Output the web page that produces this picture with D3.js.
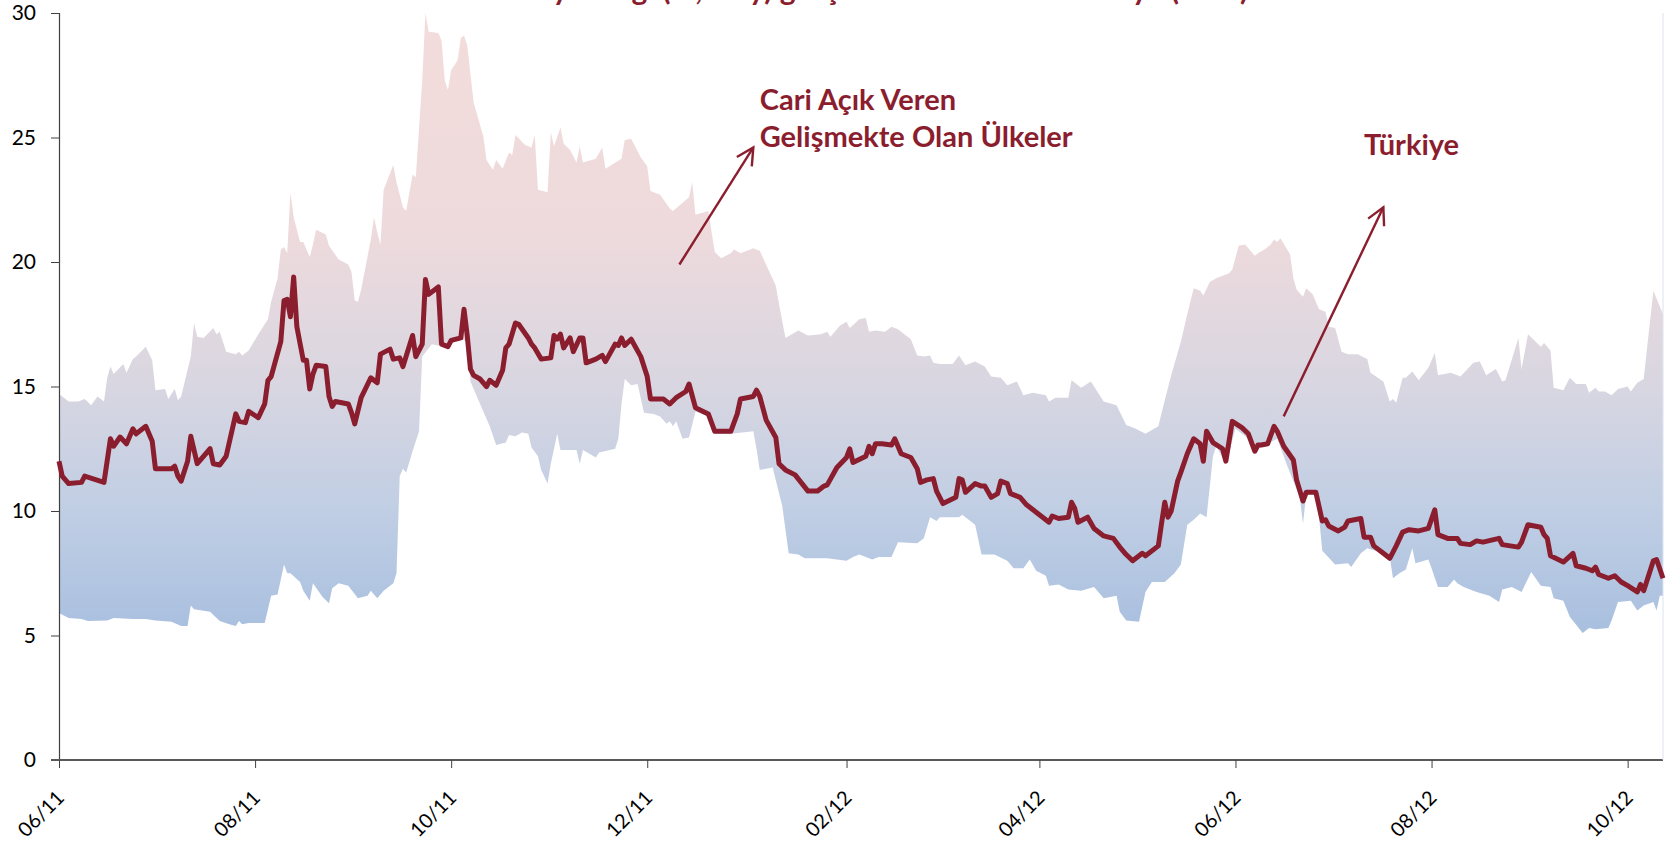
<!DOCTYPE html>
<html>
<head>
<meta charset="utf-8">
<script src="https://cdn.jsdelivr.net/npm/d3@7"></script>
<style>
  body { margin: 0; background: #fff; }
  svg { display: block; font-family: Lato, "Open Sans", sans-serif; }
</style>
</head>
<body>
<svg id="chart" width="1667" height="843"></svg>
<script>
// days are counted from startDate
var startDate = "2011-06-01";
var endDay = 499;
var tickDates = ["2011-06-01", "2011-08-01", "2011-10-01", "2011-12-01", "2012-02-01",
                 "2012-04-01", "2012-06-01", "2012-08-01", "2012-10-01"];
var yTicks = [0, 5, 10, 15, 20, 25, 30];

// Türkiye
var turkiye = [[0,12.0],[1,11.4],[3,11.1],[7,11.15],[8,11.4],[14,11.15],[16,12.9],[17,12.6],[19,12.97],[21,12.7],
  [23,13.3],[24,13.1],[27,13.4],[29,12.8],[30,11.7],[35,11.7],[36,11.8],[37,11.4],[38,11.2],[40,12.0],
  [41,13.0],[43,11.9],[47,12.5],[48,11.9],[50,11.85],[52,12.2],[55,13.9],[56,13.6],[58,13.55],[59,14.0],
  [62,13.75],[64,14.3],[65,15.25],[66,15.4],[69,16.8],[70,18.45],[71,18.5],[72,17.8],[73,19.4],[74,17.4],
  [76,16.05],[77,16.05],[78,14.9],[79,15.5],[80,15.85],[83,15.8],[84,14.6],[85,14.2],[86,14.4],[90,14.3],
  [91,13.95],[92,13.5],[94,14.55],[97,15.35],[98,15.25],[99,15.15],[100,16.3],[103,16.5],[104,16.1],[106,16.15],
  [107,15.8],[110,17.05],[111,16.2],[113,16.7],[114,19.3],[115,18.7],[118,19.0],[119,16.7],[121,16.6],[122,16.85],
  [125,16.95],[126,18.1],[127,17.05],[128,15.7],[129,15.45],[131,15.3],[133,15.0],[134,15.25],[136,15.05],[138,15.65],
  [139,16.55],[140,16.7],[142,17.55],[143,17.5],[146,16.95],[147,16.7],[148,16.55],[150,16.1],[153,16.15],[154,17.05],
  [155,16.9],[156,17.1],[157,16.55],[159,16.95],[160,16.4],[162,16.95],[163,16.95],[164,15.95],[167,16.1],[169,16.25],
  [170,16.0],[173,16.7],[174,16.65],[175,16.95],[176,16.65],[178,16.9],[181,16.2],[183,15.4],[184,14.5],[188,14.5],
  [190,14.3],[192,14.55],[195,14.8],[196,15.1],[198,14.15],[202,13.9],[204,13.2],[209,13.2],[211,13.9],[212,14.5],
  [216,14.6],[217,14.85],[218,14.6],[220,13.65],[223,12.95],[224,11.9],[226,11.65],[229,11.45],[233,10.8],[236,10.8],
  [238,11.0],[239,11.05],[242,11.75],[245,12.15],[246,12.5],[247,11.95],[251,12.2],[252,12.6],[253,12.3],[254,12.7],
  [256,12.7],[259,12.65],[260,12.9],[262,12.3],[265,12.15],[267,11.7],[268,11.15],[270,11.25],[272,11.3],[273,10.8],
  [275,10.3],[279,10.55],[280,11.3],[281,11.25],[282,10.75],[285,11.1],[287,11.0],[288,11.0],[290,10.55],[292,10.7],
  [293,11.2],[295,11.1],[296,10.7],[299,10.55],[301,10.25],[303,10.05],[307,9.65],[308,9.55],[309,9.8],[311,9.7],
  [314,9.75],[315,10.35],[316,10.1],[317,9.55],[320,9.75],[322,9.3],[325,9.0],[328,8.9],[330,8.55],[332,8.25],
  [334,8.0],[337,8.3],[338,8.2],[342,8.6],[343,9.5],[344,10.35],[345,9.75],[346,10.0],[348,11.2],[349,11.55],
  [351,12.3],[353,12.9],[355,12.7],[356,12.0],[357,13.2],[359,12.75],[362,12.5],[363,12.0],[365,13.6],[368,13.35],
  [370,13.1],[372,12.4],[373,12.65],[374,12.65],[376,12.7],[378,13.4],[379,13.2],[381,12.6],[384,12.05],[385,11.25],
  [387,10.4],[388,10.75],[391,10.75],[393,9.6],[394,9.65],[395,9.4],[398,9.2],[400,9.35],[401,9.6],[405,9.7],
  [406,8.95],[408,8.95],[409,8.6],[412,8.3],[414,8.1],[416,8.6],[418,9.15],[420,9.25],[423,9.2],[426,9.3],
  [428,10.05],[429,9.05],[432,8.9],[435,8.9],[436,8.7],[439,8.65],[441,8.8],[443,8.75],[448,8.9],[449,8.65],
  [454,8.55],[455,8.75],[457,9.45],[461,9.35],[462,9.05],[463,8.9],[464,8.2],[468,7.95],[471,8.3],[472,7.8],
  [475,7.7],[477,7.6],[478,7.75],[479,7.45],[482,7.3],[484,7.4],[486,7.15],[488,7.0],[491,6.75],[492,7.05],
  [493,6.8],[496,8.0],[497,8.05],[499,7.3]];

// Cari açık veren gelişmekte olan ülkeler: highest value
var bandHigh = [[0,14.7],[1,14.6],[3,14.4],[6,14.4],[8,14.5],[10,14.25],[12,14.6],[14,14.4],[15,15.35],[16,15.8],
  [17,15.5],[20,15.9],[21,15.55],[23,16.1],[24,16.2],[27,16.6],[29,16.05],[30,14.85],[33,14.9],[34,14.5],
  [36,14.9],[37,14.45],[38,14.6],[41,16.2],[42,17.55],[43,17.0],[45,16.95],[48,17.35],[49,17.1],[50,17.2],
  [52,16.4],[55,16.3],[56,16.4],[57,16.25],[59,16.45],[62,17.1],[65,17.7],[66,18.4],[68,19.35],[69,20.5],
  [70,20.6],[71,20.35],[72,22.8],[73,21.8],[75,20.8],[76,20.8],[78,20.2],[79,20.7],[80,21.3],[83,21.1],
  [84,20.65],[87,20.1],[90,19.9],[91,19.6],[92,18.45],[93,18.4],[94,18.9],[97,20.9],[98,21.8],[99,21.2],
  [100,20.7],[101,22.9],[104,23.9],[105,23.2],[107,22.2],[108,22.05],[110,23.5],[111,23.4],[113,27.3],[114,30.0],
  [115,29.25],[118,29.2],[119,28.9],[120,27.3],[121,26.9],[122,27.7],[124,28.1],[125,29.0],[126,29.1],[127,28.7],
  [129,26.4],[132,25.05],[133,24.1],[135,23.7],[136,24.1],[138,23.75],[140,24.4],[141,24.3],[142,25.1],[145,24.7],
  [147,24.6],[148,25.1],[149,22.9],[152,22.8],[153,25.2],[154,24.65],[156,25.4],[157,24.75],[159,24.5],[161,24.0],
  [162,24.65],[163,24.0],[167,24.15],[169,24.6],[170,23.75],[175,24.15],[176,24.9],[178,24.95],[181,24.2],[183,23.85],
  [184,22.85],[187,22.7],[190,22.15],[191,22.05],[196,22.6],[197,23.2],[198,21.9],[202,22.05],[204,20.4],[206,20.15],
  [209,20.35],[210,20.5],[212,20.35],[216,20.55],[218,20.45],[223,19.05],[224,18.3],[226,16.95],[230,17.25],[233,17.05],
  [237,17.1],[239,17.2],[240,17.0],[243,17.45],[245,17.6],[246,17.35],[249,17.7],[251,17.75],[252,17.2],[254,17.25],
  [257,17.2],[259,17.4],[261,17.3],[265,16.9],[267,16.25],[269,16.2],[271,16.25],[272,15.95],[274,15.9],[278,15.9],
  [280,16.25],[282,15.85],[285,16.0],[288,15.8],[290,15.4],[293,15.35],[295,15.05],[298,15.2],[300,14.65],[303,14.75],
  [307,14.65],[308,14.4],[310,14.55],[314,14.55],[315,15.25],[318,14.95],[321,15.2],[325,14.4],[329,14.25],[332,13.45],
  [335,13.3],[338,13.1],[342,13.4],[344,14.45],[346,15.45],[349,16.8],[351,17.9],[353,18.95],[355,18.85],[356,18.65],
  [358,19.2],[360,19.35],[364,19.55],[365,19.7],[367,20.65],[369,20.7],[372,20.25],[373,20.35],[375,20.5],[377,20.7],
  [378,20.9],[379,20.8],[380,20.95],[383,20.3],[384,19.35],[385,18.9],[387,18.6],[388,18.95],[390,18.7],[392,18.1],
  [394,18.0],[395,17.4],[397,17.35],[399,16.4],[401,16.3],[404,16.3],[407,16.1],[408,15.55],[412,15.2],[414,14.4],
  [415,14.5],[416,14.35],[418,15.35],[419,15.35],[421,15.6],[423,15.25],[426,15.75],[428,16.35],[429,15.45],[433,15.55],
  [436,15.4],[440,15.95],[442,16.0],[444,15.45],[447,15.7],[449,15.2],[450,15.25],[454,16.95],[455,15.7],[457,17.1],
  [461,16.6],[462,16.75],[464,16.45],[465,14.95],[468,14.85],[470,15.35],[472,15.1],[475,15.1],[476,14.75],[478,14.95],
  [479,14.8],[481,14.8],[483,14.65],[485,14.9],[488,15.0],[489,14.8],[491,15.15],[493,15.3],[496,18.85],[499,17.9]];

// Cari açık veren gelişmekte olan ülkeler: lowest value
var bandLow = [[0,5.9],[3,5.7],[7,5.66],[9,5.58],[15,5.6],[17,5.7],[23,5.66],[27,5.66],[30,5.6],[35,5.55],
  [38,5.38],[40,5.38],[41,6.2],[42,6.05],[47,5.95],[50,5.58],[53,5.45],[55,5.38],[56,5.58],[57,5.45],
  [59,5.5],[64,5.5],[66,6.6],[68,6.65],[70,7.85],[71,7.5],[72,7.5],[75,7.15],[76,6.8],[78,6.4],
  [79,7.1],[82,6.55],[84,6.3],[85,6.9],[87,7.1],[90,7.0],[93,6.5],[96,6.6],[97,6.8],[99,6.5],
  [101,6.8],[104,7.1],[105,7.5],[106,11.4],[107,11.7],[108,11.55],[110,12.4],[112,13.2],[113,16.2],[116,16.7],
  [120,16.6],[125,16.9],[127,16.8],[128,15.2],[131,14.3],[134,13.4],[136,12.65],[139,12.75],[140,13.05],[142,13.0],
  [144,13.15],[146,13.1],[147,12.55],[149,12.2],[150,11.65],[152,11.1],[153,11.9],[155,13.1],[156,12.45],[161,12.45],
  [162,11.9],[163,12.45],[167,12.15],[168,12.35],[173,12.5],[174,12.9],[175,14.3],[176,15.3],[178,15.05],[180,15.1],
  [182,13.95],[185,13.9],[187,13.8],[189,13.5],[190,13.6],[191,13.4],[192,13.6],[194,12.9],[196,12.95],[198,14.0],
  [202,13.8],[204,13.1],[209,13.1],[216,13.2],[217,12.5],[218,11.65],[222,11.75],[225,10.2],[227,8.3],[230,8.25],
  [232,8.1],[239,8.1],[245,8.0],[247,8.15],[249,8.25],[253,8.05],[255,8.15],[259,8.15],[261,8.75],[267,8.7],
  [269,8.9],[271,9.75],[273,9.6],[274,9.75],[280,9.75],[281,9.85],[285,9.45],[287,8.25],[291,8.25],[295,8.0],
  [297,7.7],[300,7.7],[302,8.05],[304,7.6],[307,7.4],[308,7.0],[311,7.05],[314,6.85],[318,6.8],[322,6.95],
  [325,6.5],[329,6.6],[330,5.95],[332,5.6],[336,5.55],[338,6.75],[340,7.15],[344,7.15],[347,7.5],[349,7.85],
  [351,9.45],[353,9.65],[355,9.9],[357,9.75],[359,12.2],[360,12.6],[363,11.9],[366,13.3],[370,12.9],[372,12.3],
  [373,12.5],[379,12.9],[382,11.85],[386,10.55],[387,9.5],[388,10.65],[391,10.75],[392,9.75],[393,8.4],[397,7.85],
  [401,7.9],[402,7.75],[405,8.3],[407,8.5],[412,8.3],[414,8.15],[415,7.3],[417,7.5],[419,7.65],[421,8.5],
  [422,7.9],[426,8.05],[427,7.7],[429,6.95],[432,6.95],[434,7.25],[435,7.1],[437,6.95],[441,6.75],[445,6.6],
  [448,6.35],[449,6.85],[452,6.95],[455,6.75],[458,7.55],[461,7.0],[464,6.95],[465,6.5],[468,6.4],[470,5.75],
  [474,5.1],[476,5.3],[478,5.25],[482,5.3],[483,5.6],[485,6.35],[489,6.4],[491,6.0],[493,6.2],[496,6.35],
  [497,6.0],[498,6.6],[499,6.6]];

// annotations: [day, value]
var noteEmerging = ["Cari Açık Veren", "Gelişmekte Olan Ülkeler"];
var noteEmergingAt = [218, 26.1];
var arrowEmerging = [[193, 19.9], [216, 24.6]];
var noteTurkey = "Türkiye";
var noteTurkeyAt = [406, 24.3];
var arrowTurkey = [[381, 13.8], [412, 22.2]];
var title = "Kur Oynaklığı (%, 3 ay) gelişmekte ülkeler ve Türkiye (USD)";

var red = "#8B1E2E";
var parseDate = d3.utcParse("%Y-%m-%d");
var start = parseDate(startDate);
function toDate(d) { return d3.utcDay.offset(start, d); }

var svg = d3.select("#chart");
var plotLeft = 59, plotRight = 1663, plotTop = 13, plotBottom = 760;

var x = d3.scaleUtc().domain([start, toDate(endDay)]).range([plotLeft, plotRight]);
var y = d3.scaleLinear().domain([0, 30]).range([plotBottom, plotTop]);

// gradient for the band
var grad = svg.append("defs").append("linearGradient")
  .attr("id", "bandFill")
  .attr("gradientUnits", "userSpaceOnUse")
  .attr("x1", 0).attr("x2", 0)
  .attr("y1", y(30)).attr("y2", y(5));
[[0, "#F3DCDB"], [0.35, "#EEDADC"], [0.6, "#D8D6E1"], [0.8, "#C0CEE4"], [1, "#A8BFDF"]].forEach(function(s) {
  grad.append("stop").attr("offset", s[0]).attr("stop-color", s[1]);
});

// title, mostly cut off at the top
svg.append("text")
  .attr("x", (plotLeft + plotRight) / 2)
  .attr("y", 0)
  .attr("text-anchor", "middle")
  .attr("font-weight", "bold")
  .attr("font-size", 30)
  .attr("fill", red)
  .text(title);

// band between high and low
var pathLine = d3.line()
  .x(function(d) { return x(toDate(d[0])); })
  .y(function(d) { return y(d[1]); });
var bandPts = bandHigh.concat(bandLow.slice().reverse());
svg.append("path")
  .attr("d", pathLine(bandPts) + "Z")
  .attr("fill", "url(#bandFill)")
  .attr("stroke", "none");

// axes
var yAxis = d3.axisLeft(y).tickValues(yTicks).tickSize(8).tickPadding(15);
var gy = svg.append("g").attr("transform", "translate(" + plotLeft + ",0)").call(yAxis);
gy.select(".domain").attr("stroke", "#404040").attr("stroke-width", 1.2);
gy.selectAll(".tick line").attr("stroke", "#404040");
gy.selectAll("text").attr("font-size", 21).attr("fill", "#000").attr("font-family", "Lato, sans-serif");

var xAxis = d3.axisBottom(x)
  .tickValues(tickDates.map(parseDate))
  .tickSize(8)
  .tickFormat(d3.utcFormat("%m/%y"));
var gx = svg.append("g").attr("transform", "translate(0," + plotBottom + ")").call(xAxis);
gx.select(".domain").attr("d", "M" + (plotLeft - 8) + ",0H" + plotRight).attr("stroke", "#595959").attr("stroke-width", 2);
gx.selectAll(".tick line").attr("stroke", "#404040");
gx.selectAll("text")
  .attr("font-size", 20)
  .attr("fill", "#000")
  .attr("font-family", "Lato, sans-serif")
  .attr("text-anchor", "end")
  .attr("dy", null)
  .attr("y", null)
  .attr("transform", "translate(6,39) rotate(-45)");

// faint right border of the plot
svg.append("line")
  .attr("x1", plotRight).attr("x2", plotRight)
  .attr("y1", y(30)).attr("y2", plotBottom)
  .attr("stroke", "#DCE4F0").attr("stroke-width", 1);

// Türkiye line
svg.append("path")
  .datum(turkiye)
  .attr("d", pathLine)
  .attr("fill", "none")
  .attr("stroke", red)
  .attr("stroke-width", 5)
  .attr("stroke-linejoin", "round");

// arrows
function arrow(pts) {
  var a = [x(toDate(pts[0][0])), y(pts[0][1])];
  var b = [x(toDate(pts[1][0])), y(pts[1][1])];
  var ang = Math.atan2(b[1] - a[1], b[0] - a[0]);
  var len = 19, spread = Math.PI / 6.5;
  svg.append("line")
    .attr("x1", a[0]).attr("y1", a[1]).attr("x2", b[0]).attr("y2", b[1])
    .attr("stroke", red).attr("stroke-width", 2.4);
  svg.append("path")
    .attr("d", "M" + (b[0] - len * Math.cos(ang - spread)) + "," + (b[1] - len * Math.sin(ang - spread)) +
      "L" + b[0] + "," + b[1] +
      "L" + (b[0] - len * Math.cos(ang + spread)) + "," + (b[1] - len * Math.sin(ang + spread)))
    .attr("fill", "none").attr("stroke", red).attr("stroke-width", 2.4);
}
arrow(arrowEmerging);
arrow(arrowTurkey);

// labels
var lab = svg.append("text")
  .attr("x", x(toDate(noteEmergingAt[0])))
  .attr("y", y(noteEmergingAt[1]))
  .attr("font-weight", "bold")
  .attr("font-size", 29)
  .attr("fill", red);
noteEmerging.forEach(function(t, i) {
  lab.append("tspan").attr("x", x(toDate(noteEmergingAt[0]))).attr("dy", i === 0 ? 0 : 37).text(t);
});

svg.append("text")
  .attr("x", x(toDate(noteTurkeyAt[0])))
  .attr("y", y(noteTurkeyAt[1]))
  .attr("font-weight", "bold")
  .attr("font-size", 29)
  .attr("fill", red)
  .text(noteTurkey);
</script>
</body>
</html>
